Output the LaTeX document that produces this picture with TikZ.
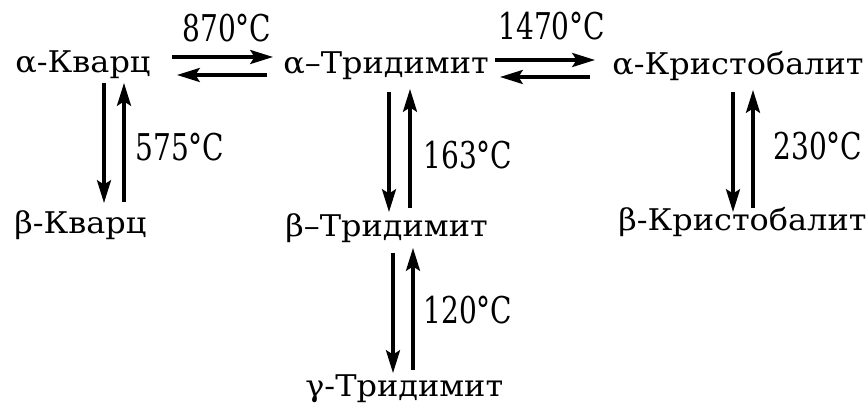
\documentclass[tikz,border=0pt]{standalone}
\usepackage{fontspec}
\setmainfont{DejaVu Serif}
\usetikzlibrary{calc,arrows.meta}

% wide phase names, narrow temperatures
\newcommand{\phw}[1]{\scalebox{1.07}[1]{#1}}
\newcommand{\tpw}[1]{\scalebox{0.76}[1]{#1}}

\tikzset{
  phase/.style={anchor=base west, inner sep=0pt, font=\fontsize{17}{20}\selectfont},
  temp/.style={anchor=base west, inner sep=0pt, font=\fontsize{21}{25}\selectfont},
  conv/.style={line width=1.8pt, -{Stealth[length=13pt,width=8pt,inset=2.5pt]}}
}

\begin{document}
\begin{tikzpicture}[x=0.02cm,y=-0.02cm]
\useasboundingbox (0,0) rectangle (868,411);

%PHASES
\node[phase] (aq) at (15,73) {\phw{α-Кварц}};
\node[phase] (at) at (283,74) {\phw{α–Тридимит}};
\node[phase] (ac) at (612,75) {\phw{α-Кристобалит}};
\node[phase] (bq) at (14,234) {\phw{β-Кварц}};
\node[phase] (bt) at (285,237) {\phw{β–Тридимит}};
\node[phase] (bc) at (618,231) {\phw{β-Кристобалит}};
\node[phase] (gt) at (305,397) {\phw{γ-Тридимит}};

%TEMPERATURES
\node[temp] (t870) at (182,42) {\tpw{870°C}};
\node[temp] (t1470) at (498,40) {\tpw{1470°C}};
\node[temp] (t575) at (135,161) {\tpw{575°C}};
\node[temp] (t163) at (423,169) {\tpw{163°C}};
\node[temp] (t230) at (773,160) {\tpw{230°C}};
\node[temp] (t120) at (423,324) {\tpw{120°C}};

%QUARTZ <-> TRIDYMITE <-> CRISTOBALITE
\draw[conv] ($(aq.base west)+(157,-16)$) -- ($(at.base west)+(-10,-17)$);
\draw[conv] ($(at.base west)+(-16,1)$) -- ($(aq.base west)+(162,2)$);
\draw[conv] ($(at.base west)+(212,-14)$) -- ($(ac.base west)+(-17,-15)$);
\draw[conv] ($(ac.base west)+(-22,2)$) -- ($(at.base west)+(217,3)$);

%ALPHA <-> BETA <-> GAMMA
\draw[conv] ($(aq.base west)+(89,10)$) -- ($(bq.base west)+(90,-31)$);
\draw[conv] ($(bq.base west)+(110,-32)$) -- ($(aq.base west)+(109,10)$);

\draw[conv] ($(at.base west)+(106,18)$) -- ($(bt.base west)+(104,-25)$);
\draw[conv] ($(bt.base west)+(125,-29)$) -- ($(at.base west)+(127,15)$);

\draw[conv] ($(bt.base west)+(108,16)$) -- ($(gt.base west)+(88,-24)$);
\draw[conv] ($(gt.base west)+(108,-27)$) -- ($(bt.base west)+(128,11)$);

\draw[conv] ($(ac.base west)+(121,17)$) -- ($(bc.base west)+(115,-19)$);
\draw[conv] ($(bc.base west)+(135,-23)$) -- ($(ac.base west)+(141,15)$);

\end{tikzpicture}
\end{document}
